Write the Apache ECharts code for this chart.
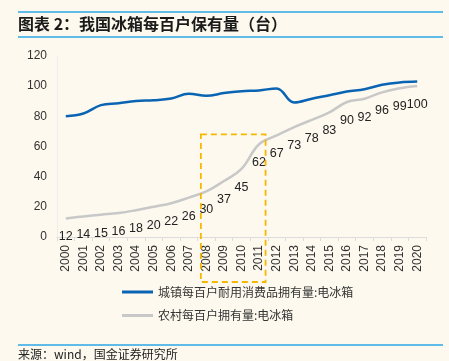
<!DOCTYPE html>
<html><head><meta charset="utf-8">
<script src="https://cdn.jsdelivr.net/npm/echarts@6/dist/echarts.min.js"></script>
<style>html,body{margin:0;padding:0;background:#fdf9ee;}#c{width:449px;height:361px;}</style>
</head><body><div id="c"></div>
<script>
const years = ['2000','2001','2002','2003','2004','2005','2006','2007','2008','2009','2010','2011','2012','2013','2014','2015','2016','2017','2018','2019','2020'];
const urban = [80.1,81.9,87.4,88.7,90.2,90.7,91.8,95.0,93.6,95.4,96.6,97.2,98.5,89.2,91.7,94.0,96.4,98.0,100.9,102.5,103.1];
const rural = [12.3,13.6,14.8,15.9,17.8,20.1,22.4,26.1,30.2,37.1,45.2,61.5,67.3,72.9,77.6,82.6,89.5,91.7,95.9,98.6,100.1];
const yTicks = [0,20,40,60,80,100,120];
const boxRange = ['2008','2011'];
const boxTop = 68;

const chart = echarts.init(document.getElementById('c'), null, {renderer:'canvas'});
const font = '"Noto Sans CJK SC", "Noto Sans", sans-serif';
const numFont = '"Liberation Sans", Arial, sans-serif';
chart.setOption({
  backgroundColor:'#fdf9ee',
  animation:false,
  title:[
    {text:'图表 2：我国冰箱每百户保有量（台）', left:18, top:16, padding:0, textStyle:{fontFamily:font, fontSize:16, fontWeight:'bold', color:'#1a1a1a'}},
    {text:'来源：wind，国金证券研究所', left:18, top:348, padding:0, textStyle:{fontFamily:font, fontSize:12, fontWeight:'normal', color:'#222'}}
  ],
  grid:{left:57, right:23, top:56, bottom:124, containLabel:false},
  legend:{
    orient:'vertical', left:117, top:281, itemWidth:31, itemHeight:3, itemGap:11.5, icon:'rect',
    textStyle:{fontFamily:font, fontSize:12, color:'#333'},
    data:['城镇每百户耐用消费品拥有量:电冰箱','农村每百户拥有量:电冰箱']
  },
  xAxis:{
    type:'category', data:years, boundaryGap:true,
    axisLine:{lineStyle:{color:'#dcdcdc', width:1}},
    axisTick:{show:true, length:4, lineStyle:{color:'#dcdcdc'}},
    axisLabel:{rotate:90, margin:8, fontFamily:numFont, fontSize:12, color:'#333', interval:0}
  },
  yAxis:{
    type:'value', min:yTicks[0], max:yTicks[yTicks.length-1], interval:20,
    splitLine:{show:false},
    axisLine:{show:true, lineStyle:{color:'#eeeeee'}},
    axisTick:{show:false},
    axisLabel:{margin:10, fontFamily:numFont, fontSize:12, color:'#333'}
  },
  series:[
    {name:'城镇每百户耐用消费品拥有量:电冰箱', type:'line', data:urban, smooth:0.4, symbol:'none',
     lineStyle:{color:'#0a64b4', width:2.5}, itemStyle:{color:'#0a64b4'}},
    {name:'农村每百户拥有量:电冰箱', type:'line', data:rural, smooth:0.4, symbol:'circle', symbolSize:0, showSymbol:true,
     lineStyle:{color:'#c8c8c8', width:2.5}, itemStyle:{color:'#c8c8c8'},
     label:{show:true, position:'bottom', distance:12, fontFamily:numFont, fontSize:12.5, color:'#222',
       formatter:p=>Math.round(p.value)}}
  ]
});
const p1 = chart.convertToPixel({gridIndex:0}, [boxRange[0], boxTop]);
const p2 = chart.convertToPixel({gridIndex:0}, [boxRange[1], 0]);
chart.setOption({
  graphic:[
    {type:'line', shape:{x1:18,y1:12,x2:443,y2:12}, style:{stroke:'#2aa6e4', lineWidth:1.5}},
    {type:'line', shape:{x1:18,y1:37,x2:443,y2:37}, style:{stroke:'#2aa6e4', lineWidth:1.5}},
    {type:'line', shape:{x1:18,y1:345,x2:443,y2:345}, style:{stroke:'#2aa6e4', lineWidth:1.5}},
    {type:'rect', shape:{x:p1[0]-5.5, y:p1[1], width:(p2[0]-p1[0])+12, height:(p2[1]+45)-p1[1]},
     style:{fill:null, stroke:'#f5b800', lineWidth:1.8, lineDash:[6,4]}, z:10}
  ]
});
</script></body></html>
